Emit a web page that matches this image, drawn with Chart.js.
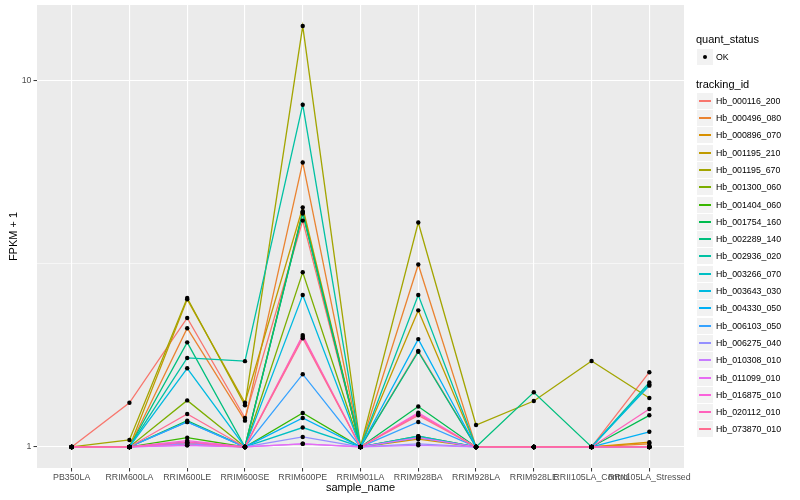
<!DOCTYPE html>
<html>
<head>
<meta charset="utf-8">
<script src="https://cdn.jsdelivr.net/npm/chart.js@4"></script>
<style>
  body { margin: 0; background: #fff; font-family: "Liberation Sans", Arial, sans-serif; }
  #wrap { position: relative; width: 800px; height: 500px; }
  #legend { position: absolute; left: 696px; top: 0; width: 104px; height: 500px; }
  .ttl { position: absolute; left: 0; font-size: 11px; color: #000; }
  .key { position: absolute; left: 1px; width: 16px; height: 16px; background: #F2F2F2; }
  .lab { position: absolute; left: 20px; font-size: 8.8px; color: #000; line-height: 10px; }
</style>
</head>
<body>
<div id="wrap">
  <canvas id="chart" width="800" height="500"></canvas>
  <div id="legend"></div>
</div>
<script>
// categories on the x axis
const categories = ["PB350LA", "RRIM600LA", "RRIM600LE", "RRIM600SE", "RRIM600PE", "RRIM901LA",
    "RRIM928BA", "RRIM928LA", "RRIM928LE", "RRII105LA_Control", "RRII105LA_Stressed"];

const trackingIds = ["Hb_000116_200", "Hb_000496_080", "Hb_000896_070", "Hb_001195_210", "Hb_001195_670",
    "Hb_001300_060", "Hb_001404_060", "Hb_001754_160", "Hb_002289_140", "Hb_002936_020",
    "Hb_003266_070", "Hb_003643_030", "Hb_004330_050", "Hb_006103_050", "Hb_006275_040",
    "Hb_010308_010", "Hb_011099_010", "Hb_016875_010", "Hb_020112_010", "Hb_073870_010"];

// FPKM + 1 per tracking id, in category order
const hb000116_200 = [1, 1.32, 2.25, 1.20, 4.15, 1, 1.83, 1, 1, 1, 1.60];
const hb000496_080 = [1, 1, 2.11, 1.18, 5.98, 1, 3.15, 1, 1, 1, 1.02];
const hb000896_070 = [1, 1, 1.02, 1, 4.40, 1, 1.05, 1, 1, 1, 1.03];
const hb001195_210 = [1, 1, 2.53, 1.32, 4.51, 1, 2.36, 1, 1, 1, 1];
const hb001195_670 = [1, 1.045, 2.55, 1.30, 14.1, 1, 4.10, 1.148, 1.335, 1.716, 1.36];
const hb001300_060 = [1, 1, 1.34, 1, 3.00, 1, 1.06, 1, 1, 1, 1];
const hb001404_060 = [1, 1, 1.06, 1, 1.238, 1, 1.07, 1, 1, 1, 1];
const hb001754_160 = [1, 1, 1.18, 1, 4.37, 1, 1.29, 1, 1, 1, 1.22];
const hb002289_140 = [1, 1, 1.93, 1, 4.34, 1, 1.82, 1, 1.41, 1, 1];
const hb002936_020 = [1, 1, 1.75, 1.715, 8.6, 1, 2.60, 1, 1, 1, 1.50];
const hb003266_070 = [1, 1, 1.03, 1, 1.13, 1, 1.07, 1, 1, 1, 1.48];
const hb003643_030 = [1, 1, 1.64, 1, 2.60, 1, 1.06, 1, 1, 1, 1.47];
const hb004330_050 = [1, 1, 1.17, 1, 1.20, 1, 1.97, 1, 1, 1, 1.10];
const hb006103_050 = [1, 1, 1.17, 1, 1.58, 1, 1.17, 1, 1, 1, 1];
const hb006275_040 = [1, 1, 1.02, 1, 1.065, 1, 1.02, 1, 1, 1, 1];
const hb010308_010 = [1, 1, 1.01, 1, 1.02, 1, 1.01, 1, 1, 1, 1];
const hb011099_010 = [1, 1, 1.01, 1, 1.02, 1, 1.06, 1, 1, 1, 1];
const hb016875_010 = [1, 1, 1.04, 1, 2.00, 1, 1.24, 1, 1, 1, 1];
const hb020112_010 = [1, 1, 1.03, 1, 2.02, 1, 1.23, 1, 1, 1, 1.27];
const hb073870_010 = [1, 1, 1.23, 1, 1.98, 1, 1.22, 1, 1, 1, 1];

const seriesValues = [hb000116_200, hb000496_080, hb000896_070, hb001195_210, hb001195_670,
    hb001300_060, hb001404_060, hb001754_160, hb002289_140, hb002936_020,
    hb003266_070, hb003643_030, hb004330_050, hb006103_050, hb006275_040,
    hb010308_010, hb011099_010, hb016875_010, hb020112_010, hb073870_010];

// ggplot hue palette, 20 levels
const palette = ["#F8766D", "#EA8331", "#D89000", "#C09B00", "#A3A500", "#7CAE00", "#39B600", "#00BB4E",
    "#00BF7D", "#00C1A3", "#00BFC4", "#00BAE0", "#00B0F6", "#35A2FF", "#9590FF", "#C77CFF",
    "#E76BF3", "#FA62DB", "#FF62BC", "#FF6C91"];

const yTicks = [1, Math.sqrt(10), 10];

// log range with 5% expansion like ggplot
const allVals = seriesValues.flat();
const lo = Math.log10(Math.min(...allVals));
const hi = Math.log10(Math.max(...allVals));
const pad = (hi - lo) * 0.05;

const datasets = seriesValues.map((vals, i) => ({
    label: trackingIds[i],
    data: vals.map((v, j) => ({ x: j, y: v })),
    borderColor: palette[i],
    borderWidth: 1.3,
    pointRadius: 0,
    fill: false,
    order: 100 - i
}));

datasets.push({
    label: "OK",
    data: seriesValues.flatMap(vals => vals.map((v, j) => ({ x: j, y: v }))),
    showLine: false,
    pointRadius: 2.2,
    pointBackgroundColor: "#000",
    pointBorderWidth: 0,
    order: 0
});

const panelBg = {
    id: "panelBg",
    beforeDraw(chart) {
        const a = chart.chartArea;
        const c = chart.ctx;
        c.save();
        c.fillStyle = "#EBEBEB";
        c.fillRect(a.left, a.top, a.right - a.left, a.bottom - a.top);
        c.restore();
    }
};

Chart.defaults.font.family = '"Liberation Sans", Arial, sans-serif';

new Chart(document.getElementById("chart"), {
    type: "line",
    data: { datasets: datasets },
    plugins: [panelBg],
    options: {
        responsive: false,
        animation: false,
        layout: { padding: { top: 5, right: 116, left: 0, bottom: 0 } },
        plugins: { legend: { display: false }, tooltip: { enabled: false } },
        scales: {
            x: {
                type: "linear",
                min: -0.6,
                max: categories.length - 1 + 0.6,
                afterBuildTicks: s => { s.ticks = categories.map((c, i) => ({ value: i })); },
                afterFit: s => { s.height = 32; s.paddingLeft = 0; s.paddingRight = 0; },
                ticks: {
                    autoSkip: false, maxRotation: 0, padding: 1,
                    color: "#4D4D4D", font: { size: 8.8 },
                    callback: v => categories[v]
                },
                grid: { color: "#FFFFFF", lineWidth: 1.1, tickLength: 3.5, tickColor: "#333333", tickWidth: 1 },
                border: { display: false },
                title: { display: true, text: "sample_name", color: "#000", font: { size: 11 }, padding: { top: 0, bottom: 5 } }
            },
            y: {
                type: "logarithmic",
                min: Math.pow(10, lo - pad),
                max: Math.pow(10, hi + pad),
                afterBuildTicks: s => { s.ticks = yTicks.map(v => ({ value: v })); },
                afterFit: s => { s.width = 37; s.paddingTop = 0; s.paddingBottom = 0; },
                ticks: {
                    padding: 2, color: "#4D4D4D", font: { size: 8.8 },
                    callback: v => (v === 1 || v === 10) ? String(v) : ""
                },
                grid: {
                    color: "#FFFFFF",
                    lineWidth: c => (c.tick && (c.tick.value === 1 || c.tick.value === 10)) ? 1.1 : 0.55,
                    tickLength: 3.5,
                    tickColor: c => (c.tick && (c.tick.value === 1 || c.tick.value === 10)) ? "#333333" : "rgba(0,0,0,0)",
                    tickWidth: 1
                },
                border: { display: false },
                title: { display: true, text: "FPKM + 1", color: "#000", font: { size: 11 }, padding: { top: 7, bottom: 2 } }
            }
        }
    }
});

// legend in ggplot style
const legend = document.getElementById("legend");
let html = '<div class="ttl" style="top:33px">quant_status</div>';
html += '<div class="key" style="top:49px"><div style="position:absolute;left:6px;top:6px;width:4px;height:4px;border-radius:2px;background:#000"></div></div>';
html += '<div class="lab" style="top:52px">OK</div>';
html += '<div class="ttl" style="top:78px">tracking_id</div>';
trackingIds.forEach((id, i) => {
    const cy = Math.round(100.7 + 17.3 * i);
    html += `<div class="key" style="top:${cy - 8}px"><div style="position:absolute;left:2px;width:12px;top:7px;height:2px;background:${palette[i]}"></div></div>`;
    html += `<div class="lab" style="top:${cy - 5}px">${id}</div>`;
});
legend.innerHTML = html;
</script>
</body>
</html>
